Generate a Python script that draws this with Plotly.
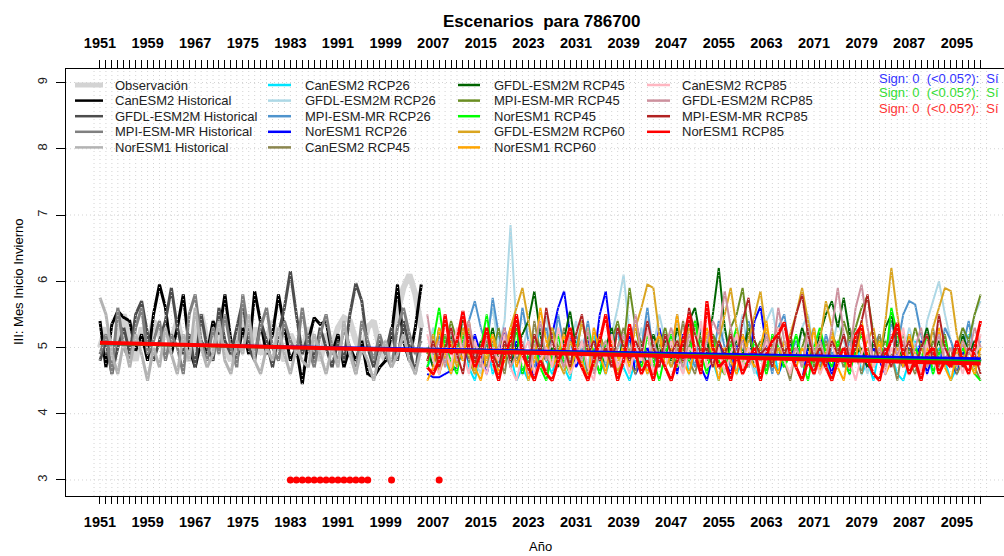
import plotly.graph_objects as go

# ---------------------------------------------------------------- data
HIST_YEARS = list(range(1951, 2006))
FUT_YEARS = list(range(2006, 2100))

obs = [5.0, 5.3, 4.9, 5.2, 5.5, 5.1, 4.8, 5.3, 5.0, 5.4,
       5.2, 4.9, 5.1, 5.4, 5.0, 4.8, 5.2, 5.5, 5.1, 4.9,
       5.3, 5.0, 4.8, 5.2, 5.4, 5.0, 5.3, 4.9, 5.1, 5.4,
       5.0, 4.8, 5.2, 5.0, 4.9, 5.3, 5.1, 4.8, 5.2, 5.0,
       5.3, 5.45, 5.4, 5.1, 4.9, 5.3, 5.4, 5.0, 4.8, 5.2,
       5.6, 5.9, 6.1, 5.8, 5.3]

canesm2_hist = [5.4, 4.7, 5.35, 5.55, 5.45, 5.4, 4.95, 5.2, 4.8, 5.5,
                5.95, 5.6, 4.9, 5.3, 5.8, 5.0, 4.7, 5.1, 4.9, 5.4,
                5.2, 5.8, 5.1, 4.8, 5.3, 4.9, 5.85, 5.4, 4.9, 5.2,
                5.8, 5.3, 4.8, 5.0, 4.45, 5.1, 5.45, 5.35, 5.4, 4.9,
                5.2, 4.7, 5.0, 4.8, 5.1, 4.6, 4.55, 4.7, 4.8, 5.2,
                5.95, 5.1, 4.8, 5.3, 5.95]

gfdl_hist = [4.8, 5.1, 4.6, 5.0, 5.3, 4.9, 5.5, 5.7, 5.2, 4.8,
             5.1, 5.4, 5.9, 5.3, 4.9, 5.2, 4.7, 5.5, 5.0, 4.8,
             5.6, 5.1, 4.9, 5.3, 5.7, 5.0, 4.8, 5.4, 5.1, 4.7,
             5.2, 5.6, 6.15, 5.5, 4.9, 5.2, 4.8, 5.3, 5.0, 4.7,
             5.1, 4.8, 5.5, 5.97, 5.7, 5.0, 4.7, 5.1, 4.9, 5.3,
             4.8, 5.4, 5.0, 4.6, 5.3]

mpi_hist = [4.9, 5.2, 4.6, 5.6, 5.0, 4.8, 5.3, 5.6, 4.9, 5.1,
            5.4, 4.8, 5.2, 5.0, 4.6, 5.5, 5.8, 5.1, 4.8, 5.3,
            4.9, 5.5, 5.0, 4.7, 5.8, 5.2, 4.9, 5.3, 5.6, 5.0,
            4.8, 5.4, 5.1, 4.9, 5.6, 5.0, 4.7, 5.2, 5.5, 5.0,
            4.8, 5.3, 5.0, 4.6, 5.4, 5.1, 4.8, 5.2, 4.9, 4.7,
            5.3, 5.6, 5.2, 4.9, 5.1]

noresm1_hist = [5.75, 5.5, 4.9, 4.6, 5.1, 4.7, 5.2, 4.9, 4.5, 5.0,
                4.7, 5.3, 4.9, 4.6, 5.2, 4.8, 5.6, 5.0, 4.7, 4.9,
                5.4, 4.8, 4.6, 5.1, 4.9, 5.5, 4.8, 4.6, 5.0, 4.8,
                5.3, 4.9, 4.6, 5.0, 4.8, 4.7, 5.2, 4.9, 4.6, 5.0,
                4.7, 5.4, 4.9, 4.6, 5.0, 4.8, 4.5, 4.9, 5.1, 4.7,
                4.9, 5.2, 4.8, 4.6, 5.0]

canesm2_rcp26 = [4.7, 4.9, 5.2, 4.8, 4.6, 5.0, 5.3, 4.7, 4.5, 4.9,
                 5.1, 4.6, 4.8, 5.2, 4.9, 4.5, 4.7, 4.5, 4.9, 5.3,
                 4.8, 4.6, 5.0, 4.7, 4.5, 5.1, 4.9, 4.6, 5.2, 4.8,
                 4.6, 4.9, 5.3, 4.7, 4.5, 4.8, 5.0, 4.6, 4.9, 5.2,
                 4.7, 4.5, 4.8, 5.1, 4.6, 4.9, 4.7, 5.2, 4.8, 4.5,
                 4.9, 5.0, 4.6, 4.8, 5.3, 4.7, 4.5, 4.9, 5.1, 4.6,
                 4.8, 5.2, 4.7, 4.5, 4.9, 4.6, 5.0, 4.8, 4.5, 5.1,
                 4.7, 4.9, 5.2, 4.6, 4.8, 4.5, 5.0, 4.7, 4.9, 4.6,
                 4.5, 4.8, 5.1, 4.7, 4.9, 4.6, 5.0, 4.8, 4.5, 4.7,
                 4.9, 5.2, 4.7, 4.8]

gfdl_rcp26 = [4.9, 5.3, 4.8, 5.5, 5.1, 4.7, 5.0, 5.4, 4.8, 4.6,
              5.2, 5.6, 5.0, 5.4, 6.85, 5.3, 4.9, 5.4, 4.7, 5.1,
              5.5, 4.8, 5.2, 4.6, 5.0, 5.4, 4.9, 4.7, 5.3, 5.0,
              4.8, 5.2, 5.6, 6.1, 5.2, 4.9, 5.3, 4.7, 5.0, 5.5,
              5.1, 4.8, 5.3, 4.6, 5.0, 5.4, 4.9, 5.2, 4.7, 5.0,
              5.3, 4.8, 5.1, 5.5, 4.9, 4.6, 5.0, 5.4, 5.6, 5.0,
              4.8, 5.2, 4.7, 5.3, 5.5, 4.9, 5.1, 4.7, 5.0, 5.4,
              5.1, 4.8, 5.3, 4.9, 4.6, 5.2, 5.0, 4.8, 5.4, 5.1,
              4.9, 5.3, 5.0, 4.7, 5.4, 5.7, 6.0, 5.5, 5.1, 4.9,
              5.3, 5.0, 5.5, 5.7]

mpi_rcp26 = [5.0, 4.7, 5.2, 4.9, 5.3, 4.8, 5.1, 5.4, 5.7, 5.3,
             5.0, 5.75, 5.2, 4.8, 5.3, 4.9, 5.6, 5.1, 4.7, 5.0,
             5.3, 4.8, 5.5, 5.0, 4.7, 5.2, 4.9, 5.4, 4.8, 5.1,
             4.7, 5.0, 5.3, 4.8, 5.1, 5.4, 5.0, 5.6, 4.9, 4.7,
             5.2, 4.9, 5.5, 4.8, 5.0, 4.7, 5.3, 5.1, 4.8, 5.4,
             5.0, 4.7, 5.2, 4.9, 5.4, 5.1, 4.8, 5.0, 4.6, 5.3,
             5.5, 4.9, 5.1, 4.8, 5.0, 5.3, 4.7, 5.2, 4.9, 5.0,
             4.8, 5.1, 4.9, 5.3, 4.7, 5.0, 5.2, 4.8, 5.4, 5.0,
             5.5, 5.7, 5.65, 5.2, 4.8, 5.0, 4.7, 5.3, 5.1, 4.8,
             5.0, 5.4, 4.9, 5.1]

noresm1_rcp26 = [4.6, 4.55, 4.55, 4.6, 4.65, 4.7, 5.0, 4.8, 5.2, 4.9,
                 4.6, 5.0, 4.8, 5.3, 4.7, 5.1, 4.6, 4.9, 4.5, 5.0,
                 4.8, 5.2, 5.6, 5.85, 5.2, 4.7, 4.9, 5.1, 4.8, 5.5,
                 5.85, 5.1, 4.7, 4.9, 5.2, 4.6, 4.8, 5.0, 4.7, 5.3,
                 4.9, 5.1, 4.6, 5.2, 4.8, 5.0, 4.7, 4.5, 4.9, 5.1,
                 4.8, 4.6, 5.0, 5.2, 4.7, 5.4, 5.62, 5.0, 4.8, 4.6,
                 4.9, 5.1, 4.7, 4.5, 5.0, 4.8, 5.2, 4.9, 4.6, 5.0,
                 4.8, 4.6, 5.1, 4.9, 4.7, 5.0, 4.8, 4.6, 5.2, 4.9,
                 4.7, 5.0, 4.8, 5.1, 4.6, 4.9, 4.7, 5.0, 4.8, 4.6,
                 4.9, 5.1, 4.8, 4.9]

canesm2_rcp45 = [4.8, 5.0, 4.6, 5.2, 4.7, 4.9, 5.3, 4.8, 4.6, 5.0,
                 4.7, 5.1, 4.9, 4.6, 5.2, 4.8, 5.0, 4.7, 5.4, 4.9,
                 4.6, 5.0, 4.8, 5.3, 4.7, 4.9, 5.1, 4.6, 4.8, 5.2,
                 4.9, 4.7, 5.0, 5.3, 4.8, 4.6, 5.1, 4.9, 4.7, 5.2,
                 5.0, 4.7, 4.9, 5.4, 4.8, 4.6, 5.0, 4.8, 5.2, 4.7,
                 4.6, 5.1, 4.9, 4.7, 5.3, 4.8, 5.0, 4.6, 4.9, 5.2,
                 4.8, 4.5, 5.0, 4.7, 5.2, 4.9, 4.6, 5.1, 4.8, 5.0,
                 4.7, 5.3, 4.9, 4.6, 5.0, 4.8, 5.2, 4.7, 4.9, 4.5,
                 5.1, 4.8, 4.6, 5.0, 4.9, 5.3, 4.7, 4.8, 5.0, 4.6,
                 4.8, 5.1, 4.7, 4.5]

gfdl_rcp45 = [5.0, 4.7, 5.3, 4.9, 5.2, 4.8, 5.5, 5.0, 4.7, 5.1,
              4.9, 5.3, 4.8, 5.1, 4.7, 5.0, 5.2, 5.4, 5.85, 5.2,
              4.8, 5.0, 4.7, 5.1, 5.55, 5.0, 4.8, 5.2, 4.9, 4.6,
              5.0, 5.3, 4.8, 5.1, 4.9, 5.4, 5.0, 4.7, 5.2, 4.9,
              5.1, 4.8, 5.3, 5.0, 5.4, 5.6, 5.1, 4.9, 5.5, 6.2,
              5.3, 4.8, 5.1, 4.9, 5.3, 4.7, 5.0, 5.2, 4.8, 5.0,
              4.7, 5.1, 4.9, 5.3, 5.0, 4.8, 5.2, 5.5, 5.7, 5.3,
              5.75, 5.2, 4.9, 5.0, 4.7, 5.1, 4.8, 5.3, 5.5, 5.0,
              4.8, 5.2, 4.7, 5.0, 5.3, 4.9, 5.1, 4.8, 5.0, 4.7,
              5.2, 4.9, 5.1, 4.8]

mpi_rcp45 = [4.9, 5.2, 4.7, 5.0, 5.4, 5.1, 4.8, 5.3, 5.0, 4.7,
             5.1, 4.9, 5.3, 4.8, 5.0, 5.5, 4.9, 4.7, 5.2, 5.0,
             4.8, 5.3, 5.0, 4.7, 5.1, 4.9, 5.4, 5.0, 4.8, 5.2,
             4.9, 5.1, 5.4, 5.0, 5.9, 5.3, 4.9, 5.2, 4.8, 5.0,
             5.3, 4.9, 5.1, 4.7, 5.0, 5.4, 5.1, 4.8, 5.2, 5.0,
             4.8, 5.3, 5.5, 5.9, 5.2, 4.9, 5.1, 4.7, 5.0, 5.3,
             4.9, 5.2, 4.8, 5.0, 5.3, 4.7, 5.1, 4.9, 5.2, 5.0,
             5.4, 5.1, 5.3, 5.6, 5.78, 5.2, 4.9, 5.1, 4.8, 5.0,
             5.2, 4.9, 5.3, 5.0, 4.8, 5.1, 4.9, 5.2, 4.7, 5.0,
             5.3, 5.1, 5.5, 5.8]

noresm1_rcp45 = [4.7, 5.1, 5.6, 5.0, 4.8, 4.6, 5.2, 4.9, 4.7, 5.0,
                 5.5, 4.9, 4.7, 5.0, 4.8, 5.3, 4.6, 4.9, 5.1, 4.7,
                 4.5, 4.9, 5.2, 4.8, 4.6, 5.0, 4.7, 5.3, 4.9, 4.6,
                 5.1, 4.8, 4.6, 5.0, 5.3, 4.9, 4.7, 5.2, 4.8, 4.5,
                 4.9, 5.2, 4.7, 5.0, 4.8, 5.4, 4.9, 4.6, 5.1, 4.8,
                 4.6, 5.0, 5.3, 4.8, 4.7, 5.1, 4.9, 4.6, 5.2, 5.0,
                 4.7, 4.9, 5.2, 4.8, 4.5, 5.0, 5.3, 4.9, 4.7, 5.1,
                 4.8, 4.6, 5.0, 5.2, 4.9, 4.7, 5.1, 4.8, 5.6, 5.2,
                 4.9, 4.7, 5.0, 4.8, 5.2, 4.6, 4.9, 5.1, 4.8, 4.7,
                 5.0, 4.8, 4.6, 4.5]

gfdl_rcp60 = [4.8, 5.2, 4.6, 4.9, 5.1, 4.7, 5.3, 4.9, 4.6, 5.0,
              4.8, 5.2, 4.9, 5.0, 5.3, 5.6, 5.9, 5.4, 4.9, 4.7,
              5.0, 5.3, 4.8, 4.6, 5.1, 4.9, 5.4, 5.0, 4.7, 5.2,
              4.8, 5.0, 4.6, 5.1, 4.9, 5.3, 5.6, 5.95, 5.9, 5.2,
              4.9, 4.7, 5.1, 4.8, 5.3, 5.0, 4.7, 5.2, 4.9, 5.1,
              5.5, 5.9, 5.3, 4.8, 5.1, 5.5, 5.85, 5.2, 4.7, 5.0,
              4.8, 5.2, 5.5, 5.9, 5.4, 4.9, 5.1, 5.7, 5.3, 4.8,
              5.0, 4.7, 5.2, 4.9, 5.1, 5.3, 4.8, 5.4, 6.2, 5.5,
              4.9, 5.1, 4.7, 5.0, 4.8, 5.3, 5.6, 5.9, 5.85, 5.2,
              4.8, 5.0, 4.7, 4.9]

noresm1_rcp60 = [4.5, 4.7, 5.3, 4.9, 4.6, 5.0, 4.8, 5.4, 4.7, 4.5,
                 4.9, 5.2, 4.6, 4.8, 5.3, 4.7, 5.0, 4.5, 4.8, 5.6,
                 5.1, 4.7, 4.9, 5.2, 4.6, 5.0, 4.8, 4.5, 5.3, 4.9,
                 4.6, 5.1, 4.8, 5.0, 4.7, 5.4, 4.9, 4.6, 5.0, 5.2,
                 4.7, 4.9, 5.5, 4.8, 4.6, 5.0, 4.7, 5.3, 4.9, 4.5,
                 5.0, 4.8, 4.6, 5.2, 4.9, 4.7, 5.0, 5.4, 4.8, 4.6,
                 5.1, 4.9, 4.7, 5.0, 4.8, 5.3, 4.6, 4.9, 5.2, 4.7,
                 4.5, 5.0, 4.8, 5.4, 4.9, 4.7, 5.1, 4.6, 4.8, 5.0,
                 4.7, 5.2, 4.9, 4.6, 5.0, 4.8, 5.3, 4.7, 4.5, 4.9,
                 5.1, 4.8, 4.6, 5.0]

canesm2_rcp85 = [5.2, 4.8, 4.6, 5.0, 4.7, 5.3, 4.9, 4.6, 5.1, 4.8,
                 4.6, 5.0, 4.8, 5.2, 4.7, 4.5, 4.9, 5.1, 4.6, 4.8,
                 5.0, 4.7, 5.3, 4.9, 4.6, 4.8, 5.1, 4.7, 4.5, 5.0,
                 4.8, 5.2, 4.7, 4.9, 4.6, 5.0, 4.8, 5.3, 4.6, 4.9,
                 4.7, 5.1, 4.8, 4.6, 5.0, 4.9, 5.4, 4.7, 4.8, 5.0,
                 4.6, 4.9, 5.2, 4.7, 5.0, 4.8, 4.6, 5.1, 4.9, 5.3,
                 4.8, 4.6, 5.0, 4.7, 5.2, 4.9, 4.6, 4.8, 5.1, 4.7,
                 5.0, 4.8, 4.5, 4.9, 5.2, 4.7, 4.9, 4.6, 5.0, 4.8,
                 5.3, 4.7, 4.9, 4.6, 5.1, 4.8, 4.6, 5.0, 4.7, 4.9,
                 4.6, 5.0, 4.8, 5.2]

gfdl_rcp85 = [5.5, 4.9, 5.1, 4.7, 5.3, 4.8, 5.0, 5.4, 4.9, 4.7,
              5.2, 4.8, 5.0, 5.3, 4.7, 4.9, 5.1, 4.6, 5.0, 5.4,
              4.8, 5.1, 4.9, 4.7, 5.2, 5.0, 4.8, 5.3, 4.6, 4.9,
              5.1, 4.7, 5.0, 5.2, 4.8, 5.5, 4.9, 4.7, 5.1, 4.8,
              5.0, 5.3, 4.9, 4.7, 5.2, 5.0, 4.8, 5.1, 5.4, 5.2,
              5.85, 5.3, 4.9, 5.1, 4.7, 5.0, 4.8, 5.2, 4.9, 5.6,
              5.1, 4.8, 5.0, 4.7, 5.3, 4.9, 5.1, 4.8, 5.3, 5.9,
              5.2, 4.9, 5.6, 5.95, 5.3, 4.8, 5.0, 4.7, 5.2, 4.9,
              5.1, 4.8, 5.0, 5.3, 4.7, 4.9, 5.2, 4.8, 5.0, 4.7,
              5.1, 4.9, 5.3, 5.0]

mpi_rcp85 = [4.8, 5.1, 4.7, 5.0, 5.3, 4.9, 4.6, 5.2, 4.8, 5.0,
             5.3, 4.9, 4.7, 5.1, 4.8, 5.4, 5.0, 4.7, 5.2, 4.9,
             5.6, 5.1, 4.8, 5.0, 4.7, 5.2, 5.5, 4.9, 5.1, 4.8,
             5.0, 4.7, 5.3, 5.0, 4.8, 5.1, 4.9, 5.4, 5.0, 4.7,
             5.2, 4.9, 5.1, 4.8, 5.6, 5.2, 4.9, 5.0, 4.7, 5.1,
             4.9, 5.2, 4.8, 5.4, 5.75, 5.1, 4.9, 5.0, 4.7, 5.2,
             4.9, 5.1, 5.5, 5.8, 5.2, 4.8, 5.0, 4.7, 5.1, 4.9,
             5.2, 4.8, 5.0, 5.4, 5.8, 5.1, 4.8, 5.0, 4.7, 5.3,
             4.9, 5.1, 4.7, 5.0, 5.2, 4.8, 5.5, 5.0, 4.8, 5.1,
             4.7, 5.0, 4.9, 4.6]

noresm1_rcp85 = [4.7, 4.6, 4.8, 5.5, 4.9, 5.1, 5.55, 5.0, 4.7, 4.9,
                 5.3, 4.8, 4.5, 4.9, 5.1, 5.5, 4.9, 4.7, 4.5, 4.8,
                 4.6, 4.5, 4.8, 5.0, 5.3, 4.9, 4.7, 4.5, 4.8, 5.1,
                 5.5, 4.9, 4.5, 4.8, 5.35, 4.9, 4.6, 4.8, 4.5, 4.9,
                 4.7, 4.5, 4.8, 5.1, 5.5, 4.9, 4.6, 5.7, 5.0, 4.7,
                 4.8, 4.5, 4.9, 4.6, 4.8, 5.0, 4.5, 4.9, 5.1, 5.2,
                 5.38, 4.9, 4.7, 4.5, 4.8, 4.6, 4.9, 4.7, 4.5, 4.8,
                 5.0, 4.7, 5.2, 5.33, 4.8, 4.6, 4.5, 4.9, 5.1, 5.37,
                 4.9, 4.6, 4.8, 4.5, 4.9, 5.0, 4.6, 4.8, 4.7, 5.1,
                 4.8, 4.6, 5.0, 5.4]

# linear trends (start / end of the full period)
TREND_YEARS = [1951, 2099]
trend_rcp26 = [5.06, 4.83]
trend_rcp45 = [5.06, 4.79]
trend_rcp85 = [5.07, 4.76]

# years flagged as significant, marked on the lower axis level
SIG_YEARS = [1983, 1984, 1985, 1986, 1987, 1988, 1989, 1990, 1991,
             1992, 1993, 1994, 1995, 1996, 2000, 2008]
SIG_LEVEL = 3

Y_TICKS = [3, 4, 5, 6, 7, 8, 9]
AXIS_YEARS = list(range(1951, 2100))
GRID_YEARS = list(range(1950, 2101))

SIGN_LINES = [("Sign: 0\u00a0 (<0.05?):\u00a0 Sí", "#3333ff"),
              ("Sign: 0\u00a0 (<0.05?):\u00a0 Sí", "#33dd33"),
              ("Sign: 0\u00a0 (<0.05?):\u00a0 Sí", "#ff3333")]

# ---------------------------------------------------------------- styling
FONT = "Liberation Sans, Arial, Helvetica, sans-serif"
W, H = 1004, 556
ML, MR, MT, MB = 66, 0, 69, 60
PW, PH = W - ML - MR, H - MT - MB
X_RANGE = [1945.29, 2102.93]
Y_RANGE = [2.758, 9.204]


def fx(px):
    return (px - ML) / PW


def fy(py):
    return (H - MB - py) / PH


hist_series = [
    ("Observación", HIST_YEARS, obs, "#d3d3d3", 6),
    ("CanESM2 Historical", HIST_YEARS, canesm2_hist, "#000000", 3),
    ("GFDL-ESM2M Historical", HIST_YEARS, gfdl_hist, "#4d4d4d", 3),
    ("MPI-ESM-MR Historical", HIST_YEARS, mpi_hist, "#808080", 3),
    ("NorESM1 Historical", HIST_YEARS, noresm1_hist, "#b3b3b3", 3),
]
fut_series = [
    ("CanESM2 RCP26", FUT_YEARS, canesm2_rcp26, "#00e5ff", 2),
    ("GFDL-ESM2M RCP26", FUT_YEARS, gfdl_rcp26, "#add8e6", 2),
    ("MPI-ESM-MR RCP26", FUT_YEARS, mpi_rcp26, "#4f94cd", 2),
    ("NorESM1 RCP26", FUT_YEARS, noresm1_rcp26, "#0000ff", 2),
    ("CanESM2 RCP45", FUT_YEARS, canesm2_rcp45, "#8b864e", 2),
    ("GFDL-ESM2M RCP45", FUT_YEARS, gfdl_rcp45, "#006400", 2),
    ("MPI-ESM-MR RCP45", FUT_YEARS, mpi_rcp45, "#6b8e23", 2),
    ("NorESM1 RCP45", FUT_YEARS, noresm1_rcp45, "#00ff00", 2),
    ("GFDL-ESM2M RCP60", FUT_YEARS, gfdl_rcp60, "#daa520", 2),
    ("NorESM1 RCP60", FUT_YEARS, noresm1_rcp60, "#ffa500", 2),
    ("CanESM2 RCP85", FUT_YEARS, canesm2_rcp85, "#ffb6c1", 2),
    ("GFDL-ESM2M RCP85", FUT_YEARS, gfdl_rcp85, "#cd919e", 2),
    ("MPI-ESM-MR RCP85", FUT_YEARS, mpi_rcp85, "#b22222", 2),
    ("NorESM1 RCP85", FUT_YEARS, noresm1_rcp85, "#ff0000", 3),
]

fig = go.Figure()

for name, xs, ys, col, lw in hist_series + fut_series:
    fig.add_trace(go.Scatter(x=xs, y=ys, mode="lines", name=name,
                             line=dict(color=col, width=lw),
                             hoverinfo="skip"))

# dotted grid drawn over the series
gx, gy = [], []
for yr in GRID_YEARS:
    gx += [yr, yr, None]
    gy += [Y_RANGE[0], Y_RANGE[1], None]
for v in Y_TICKS:
    gx += [X_RANGE[0], X_RANGE[1], None]
    gy += [v, v, None]
fig.add_trace(go.Scatter(x=gx, y=gy, mode="lines",
                         line=dict(color="#d3d3d3", width=1, dash="1px,3px"),
                         hoverinfo="skip"))

for ys, col, lw in [(trend_rcp26, "#0000ff", 3),
                    (trend_rcp45, "#00cc00", 3),
                    (trend_rcp85, "#ff0000", 4)]:
    fig.add_trace(go.Scatter(x=TREND_YEARS, y=ys, mode="lines",
                             line=dict(color=col, width=lw),
                             hoverinfo="skip"))

fig.add_trace(go.Scatter(x=SIG_YEARS, y=[SIG_LEVEL] * len(SIG_YEARS),
                         mode="markers",
                         marker=dict(color="#ff0000", size=7, line=dict(width=0)),
                         hoverinfo="skip"))

# companion trace so the top year axis is drawn
fig.add_trace(go.Scatter(x=[None], y=[None], xaxis="x2", mode="lines",
                         hoverinfo="skip"))

tick_text = [str(y) if (y - 1951) % 8 == 0 else "" for y in AXIS_YEARS]
xaxis_common = dict(range=X_RANGE, tickmode="array", tickvals=AXIS_YEARS,
                    ticktext=tick_text, ticks="outside", tickcolor="#000",
                    tickwidth=1, showline=True, linecolor="#000",
                    linewidth=1, showgrid=False, zeroline=False,
                    tickfont=dict(family=FONT, size=14.5, color="#000",
                                  weight="bold"))

# legend: four columns of line samples and labels
LEG_ROW0, LEG_DY = 85, 15.6
LEG_COLS = [(75, 103, 113), (268, 291, 303), (458, 480, 492), (647, 670, 680)]
legend_items = hist_series + fut_series
col_sizes = [5, 5, 5, 4]
shapes, annotations = [], []
k = 0
for ci, n in enumerate(col_sizes):
    lx0, lx1, tx = LEG_COLS[ci]
    for r in range(n):
        name, _, _, col, lw = legend_items[k]
        k += 1
        py = LEG_ROW0 + r * LEG_DY
        shapes.append(dict(type="line", xref="paper", yref="paper",
                           x0=fx(lx0), x1=fx(lx1), y0=fy(py), y1=fy(py),
                           line=dict(color=col, width=(5 if lw > 3 else 2.5)),
                           layer="above"))
        annotations.append(dict(x=fx(tx), y=fy(py), xref="paper", yref="paper",
                                text=name, showarrow=False, xanchor="left",
                                yanchor="middle",
                                font=dict(family=FONT, size=13, color="#222")))

for i, (txt, col) in enumerate(SIGN_LINES):
    annotations.append(dict(x=fx(877), y=fy(78 + 15 * i), xref="paper",
                            yref="paper", text=txt, showarrow=False,
                            xanchor="left", yanchor="middle",
                            font=dict(family=FONT, size=13, color=col)))

annotations.append(dict(x=fx(541.5), y=fy(21), xref="paper", yref="paper",
                        text="Escenarios\u00a0 para 786700", showarrow=False,
                        xanchor="center", yanchor="middle",
                        font=dict(family=FONT, size=17, color="#000",
                                  weight="bold")))
annotations.append(dict(x=fx(540), y=fy(546), xref="paper", yref="paper",
                        text="Año", showarrow=False, xanchor="center",
                        yanchor="middle",
                        font=dict(family=FONT, size=13, color="#000")))
annotations.append(dict(x=fx(18), y=fy(282), xref="paper", yref="paper",
                        text="III: Mes Inicio Invierno", showarrow=False,
                        textangle=-90, xanchor="center", yanchor="middle",
                        font=dict(family=FONT, size=13, color="#000")))

fig.update_layout(
    width=W, height=H,
    margin=dict(l=ML, r=MR, t=MT, b=MB, pad=0),
    paper_bgcolor="white", plot_bgcolor="white",
    showlegend=False,
    font=dict(family=FONT),
    xaxis=dict(**xaxis_common, ticklen=7, ticklabelstandoff=6),
    xaxis2=dict(**xaxis_common, overlaying="x", side="top", ticklen=8,
                ticklabelstandoff=6),
    yaxis=dict(range=Y_RANGE, tickmode="array", tickvals=Y_TICKS,
               ticks="outside", ticklen=9, tickcolor="#000", showline=True,
               linecolor="#000", linewidth=1, showgrid=False, zeroline=False,
               tickangle=-90, ticklabelstandoff=4,
               tickfont=dict(family=FONT, size=13, color="#222")),
    shapes=shapes,
    annotations=annotations,
)

fig.write_html("out.html")
